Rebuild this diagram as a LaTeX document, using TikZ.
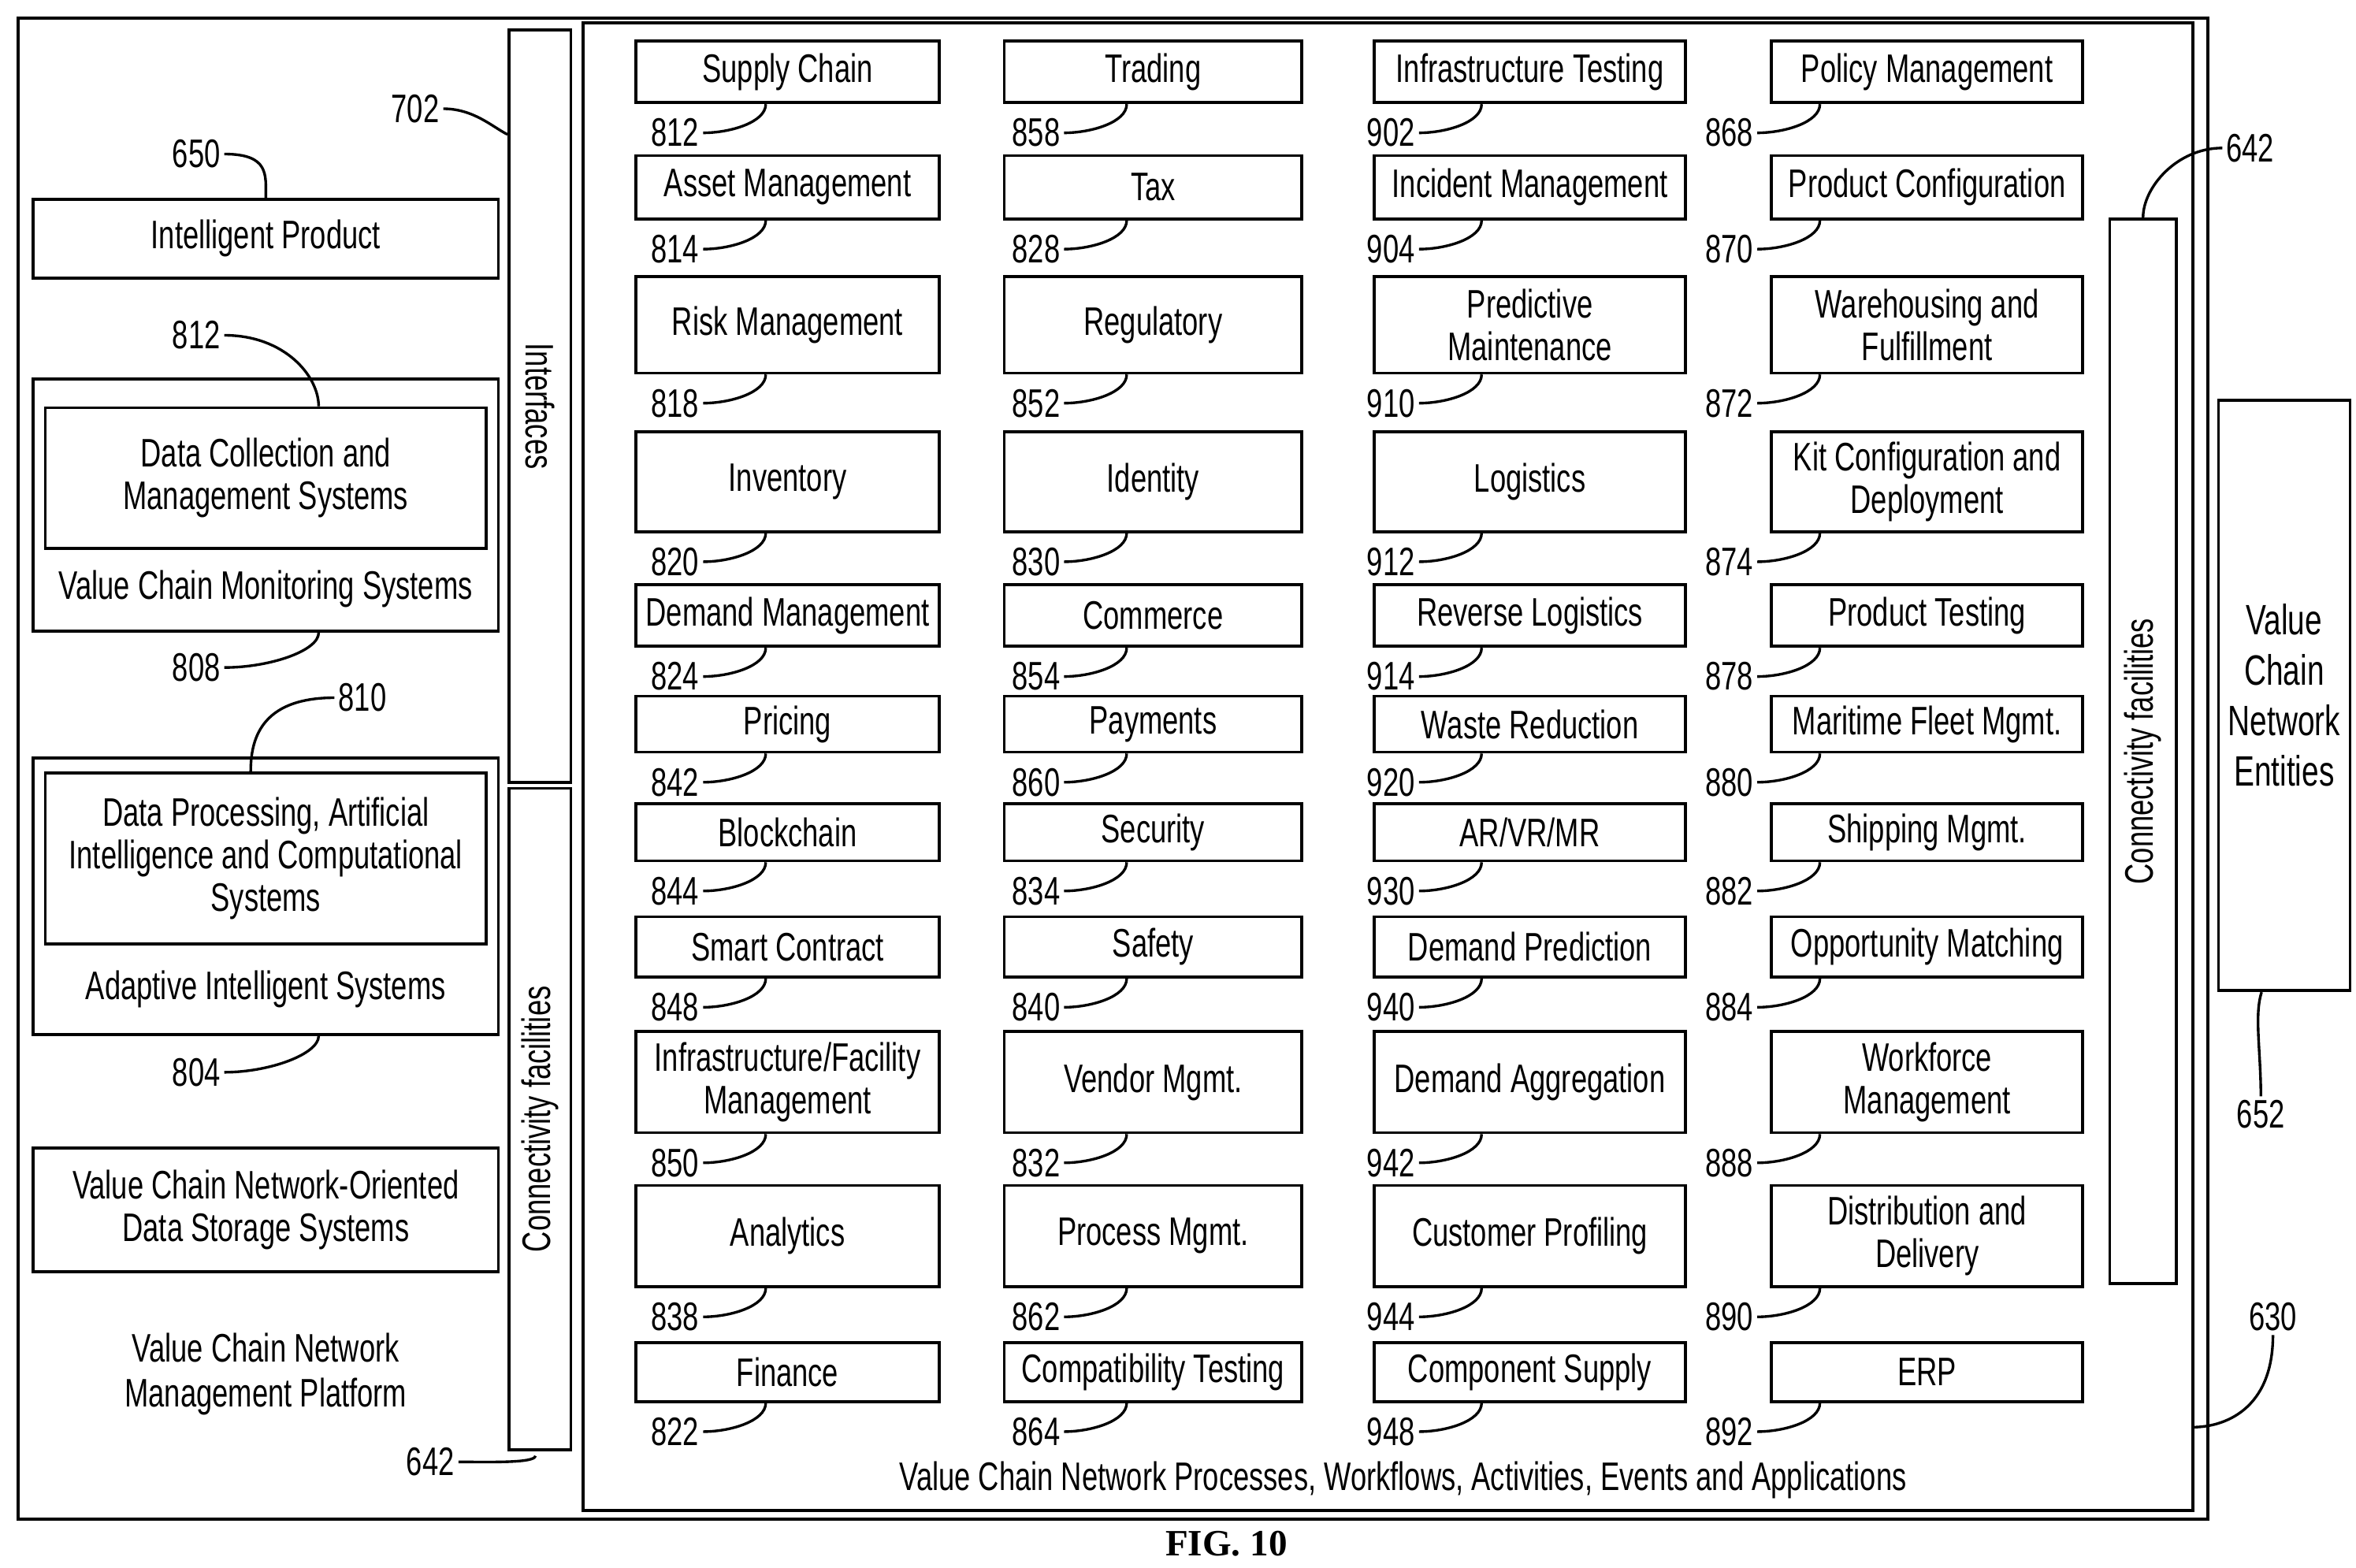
\documentclass[tikz,border=0pt]{standalone}
\usepackage{fontspec}
\setmainfont{Liberation Sans}[FakeStretch=0.72]
\newfontfamily\capfont{Liberation Serif}
\begin{document}
\begin{tikzpicture}[x=0.02cm,y=-0.02cm,line width=1.1pt,
  pbox/.style={draw,inner sep=0pt,align=center,font=\fontsize{15}{16}\selectfont},
  num/.style={inner sep=1pt,font=\fontsize{15}{16}\selectfont},
  txt/.style={align=center,font=\fontsize{15}{17}\selectfont},
  lead/.style={line width=1pt}]
\useasboundingbox (0,0) rectangle (1560,1038);
\newcommand\pb[7]{%
  \node[pbox,minimum width={(#2-#1)*0.02cm},minimum height={(#4-#3)*0.02cm}] (b#6) at ({(#1+#2)/2},{(#3+#4)/2}) {#5};
  \node[num] (n#6) at ([xshift=#7*0.02cm,yshift=-19*0.02cm]b#6.south west) {#6};
  \draw[lead] (n#6.east) .. controls +(18,0) and +(0,12) .. ([xshift={(#7+60)*0.02cm}]b#6.south west);}
% frames
\draw (12,12) rectangle (1462,1006);
\draw (386,15) rectangle (1452,1000);
\node[font=\capfont\bfseries\fontsize{14}{16}\selectfont] (fig) at (812,1022) {FIG. 10};
% left column
\node[pbox,minimum width=308*0.02cm,minimum height=52*0.02cm] (ip) at (176,158) {Intelligent Product};
\node[num] (l650) at (130,102) {650};
\draw[lead] (l650.east) .. controls +(30,0) and +(0,-15) .. (ip.north);
\node[draw,minimum width=308*0.02cm,minimum height=167*0.02cm,inner sep=0pt] (mon) at (176,334.5) {};
\node[pbox,minimum width=292*0.02cm,minimum height=93*0.02cm] (dc) at (176,316.5) {Data Collection and\\Management Systems};
\node[txt] (mont) at (176,390) {Value Chain Monitoring Systems};
\node[num] (l812) at (130,222) {812};
\draw[lead] (l812.east) .. controls +(40,0) and +(0,-20) .. ([xshift=35*0.02cm]dc.north);
\node[num] (l808) at (130,442) {808};
\draw[lead] (l808.east) .. controls +(30,0) and +(0,12) .. ([xshift=35*0.02cm]mon.south);
\node[draw,minimum width=308*0.02cm,minimum height=183*0.02cm,inner sep=0pt] (ada) at (176,593.5) {};
\node[pbox,minimum width=292*0.02cm,minimum height=113*0.02cm] (dp) at (176,568.5) {Data Processing, Artificial\\Intelligence and Computational\\Systems};
\node[txt] (adat) at (176,655) {Adaptive Intelligent Systems};
\node[num] (l810) at (240,462) {810};
\draw[lead] (l810.west) .. controls +(-50,0) and +(0,-20) .. ([xshift=-10*0.02cm]dp.north);
\node[num] (l804) at (130,710) {804};
\draw[lead] (l804.east) .. controls +(30,0) and +(0,12) .. ([xshift=35*0.02cm]ada.south);
\node[pbox,minimum width=308*0.02cm,minimum height=82*0.02cm] (ds) at (176,801) {Value Chain Network-Oriented\\Data Storage Systems};
\node[txt] (plat) at (176,910) {Value Chain Network\\Management Platform};
% interfaces / connectivity
\node[draw,minimum width=41*0.02cm,minimum height=498*0.02cm,inner sep=0pt] (intf) at (357.5,269) {};
\node[txt,rotate=-90] at (intf.center) {Interfaces};
\node[draw,minimum width=41*0.02cm,minimum height=438*0.02cm,inner sep=0pt] (cf1) at (357.5,741) {};
\node[txt,rotate=90] at (cf1.center) {Connectivity facilities};
\node[num] (l702) at (275,72) {702};
\draw[lead] (l702.east) .. controls +(20,0) and +(-10,-5) .. ([yshift=-70*0.02cm]intf.north west);
\node[num] (l642a) at (285,968) {642};
\draw[lead] (l642a.east) .. controls +(20,0) and +(0,5) .. ([xshift=-3*0.02cm,yshift=-3*0.02cm]cf1.south);
\node[draw,minimum width=44*0.02cm,minimum height=705*0.02cm,inner sep=0pt] (cf2) at (1419,497.5) {};
\node[txt,rotate=90] at (cf2.center) {Connectivity facilities};
\node[num] (l642b) at (1490,98) {642};
\draw[lead] (l642b.west) .. controls +(-30,0) and +(0,-20) .. (cf2.north);
\node[draw,minimum width=87*0.02cm,minimum height=391*0.02cm,inner sep=0pt] (vcne) at (1512.5,460.5) {};
\node[txt,font=\fontsize{16}{19}\selectfont] at (vcne.center) {Value\\Chain\\Network\\Entities};
\node[num] (l652) at (1497,738) {652};
\draw[lead] (l652.north) .. controls +(0,-30) and +(-5,15) .. ([xshift=-15*0.02cm]vcne.south);
\node[num] (l630) at (1505,872) {630};
\draw[lead] (l630.south) .. controls +(0,50) and +(20,0) .. (1452,945);
\node[txt] (vcnp) at (929,980) {Value Chain Network Processes, Workflows, Activities, Events and Applications};
% grid
\pb{421}{622}{27}{68}{Supply Chain}{812}{27}
\pb{421}{622}{103}{145}{Asset Management}{814}{27}
\pb{421}{622}{183}{247}{Risk Management}{818}{27}
\pb{421}{622}{286}{352}{Inventory}{820}{27}
\pb{421}{622}{387}{428}{Demand Management}{824}{27}
\pb{421}{622}{461}{498}{Pricing}{842}{27}
\pb{421}{622}{532}{570}{Blockchain}{844}{27}
\pb{421}{622}{607}{647}{Smart Contract}{848}{27}
\pb{421}{622}{683}{750}{Infrastructure/Facility\\Management}{850}{27}
\pb{421}{622}{785}{852}{Analytics}{838}{27}
\pb{421}{622}{889}{928}{Finance}{822}{27}
\pb{665}{862}{27}{68}{Trading}{858}{22}
\pb{665}{862}{103}{145}{Tax}{828}{22}
\pb{665}{862}{183}{247}{Regulatory}{852}{22}
\pb{665}{862}{286}{352}{Identity}{830}{22}
\pb{665}{862}{387}{428}{Commerce}{854}{22}
\pb{665}{862}{461}{498}{Payments}{860}{22}
\pb{665}{862}{532}{570}{Security}{834}{22}
\pb{665}{862}{607}{647}{Safety}{840}{22}
\pb{665}{862}{683}{750}{Vendor Mgmt.}{832}{22}
\pb{665}{862}{785}{852}{Process Mgmt.}{862}{22}
\pb{665}{862}{889}{928}{Compatibility Testing}{864}{22}
\pb{910}{1116}{27}{68}{Infrastructure Testing}{902}{12}
\pb{910}{1116}{103}{145}{Incident Management}{904}{12}
\pb{910}{1116}{183}{247}{Predictive\\Maintenance}{910}{12}
\pb{910}{1116}{286}{352}{Logistics}{912}{12}
\pb{910}{1116}{387}{428}{Reverse Logistics}{914}{12}
\pb{910}{1116}{461}{498}{Waste Reduction}{920}{12}
\pb{910}{1116}{532}{570}{AR/VR/MR}{930}{12}
\pb{910}{1116}{607}{647}{Demand Prediction}{940}{12}
\pb{910}{1116}{683}{750}{Demand Aggregation}{942}{12}
\pb{910}{1116}{785}{852}{Customer Profiling}{944}{12}
\pb{910}{1116}{889}{928}{Component Supply}{948}{12}
\pb{1173}{1379}{27}{68}{Policy Management}{868}{-27}
\pb{1173}{1379}{103}{145}{Product Configuration}{870}{-27}
\pb{1173}{1379}{183}{247}{Warehousing and\\Fulfillment}{872}{-27}
\pb{1173}{1379}{286}{352}{Kit Configuration and\\Deployment}{874}{-27}
\pb{1173}{1379}{387}{428}{Product Testing}{878}{-27}
\pb{1173}{1379}{461}{498}{Maritime Fleet Mgmt.}{880}{-27}
\pb{1173}{1379}{532}{570}{Shipping Mgmt.}{882}{-27}
\pb{1173}{1379}{607}{647}{Opportunity Matching}{884}{-27}
\pb{1173}{1379}{683}{750}{Workforce\\Management}{888}{-27}
\pb{1173}{1379}{785}{852}{Distribution and\\Delivery}{890}{-27}
\pb{1173}{1379}{889}{928}{ERP}{892}{-27}
\end{tikzpicture}
\end{document}
